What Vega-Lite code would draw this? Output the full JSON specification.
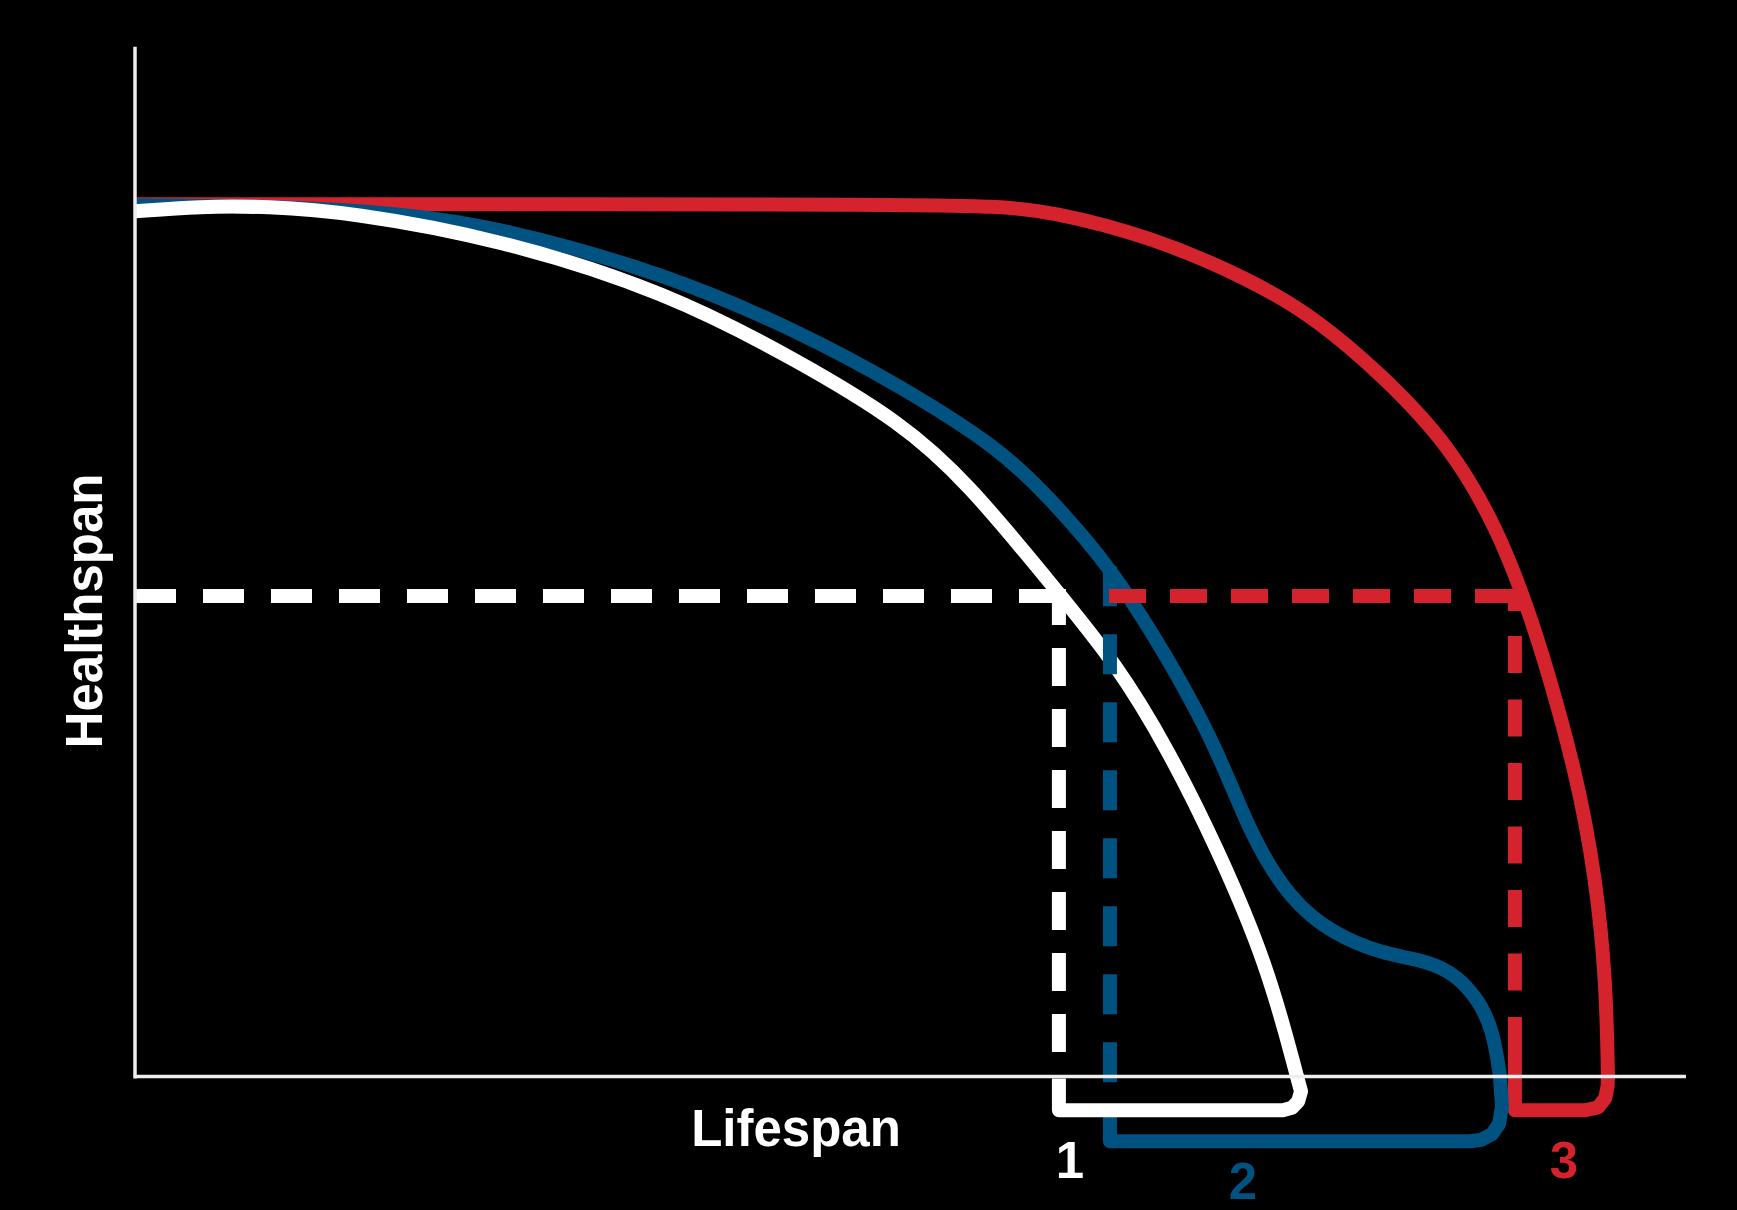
{
  "$schema": "https://vega.github.io/schema/vega-lite/v6.json",
  "width": 1737,
  "height": 1210,
  "autosize": {"type": "fit", "contains": "padding"},
  "padding": 0,
  "background": "#000000",
  "config": {"view": {"stroke": null}},
  "datasets": {
    "curves": [
      {"series": "red", "o": 1, "lifespan": 0, "healthspan": 84.70},
      {"series": "red", "o": 2, "lifespan": 23.53, "healthspan": 84.70},
      {"series": "red", "o": 3, "lifespan": 49.32, "healthspan": 84.70},
      {"series": "red", "o": 4, "lifespan": 55.77, "healthspan": 84.51},
      {"series": "red", "o": 5, "lifespan": 58.99, "healthspan": 84.03},
      {"series": "red", "o": 6, "lifespan": 65.44, "healthspan": 81.61},
      {"series": "red", "o": 7, "lifespan": 71.89, "healthspan": 77.44},
      {"series": "red", "o": 8, "lifespan": 76.21, "healthspan": 73.57},
      {"series": "red", "o": 9, "lifespan": 80.46, "healthspan": 68.05},
      {"series": "red", "o": 10, "lifespan": 84.78, "healthspan": 61.28},
      {"series": "red", "o": 11, "lifespan": 87.81, "healthspan": 53.24},
      {"series": "red", "o": 12, "lifespan": 89.43, "healthspan": 46.95},
      {"series": "red", "o": 13, "lifespan": 90.65, "healthspan": 41.63},
      {"series": "red", "o": 14, "lifespan": 92.97, "healthspan": 29.33},
      {"series": "red", "o": 15, "lifespan": 94.20, "healthspan": 19.07},
      {"series": "red", "o": 16, "lifespan": 94.84, "healthspan": 9.39},
      {"series": "red", "o": 17, "lifespan": 94.97, "healthspan": 0},
      {"series": "blue", "o": 1, "lifespan": 0, "healthspan": 84.61},
      {"series": "blue", "o": 2, "lifespan": 9.35, "healthspan": 84.51},
      {"series": "blue", "o": 3, "lifespan": 17.09, "healthspan": 83.83},
      {"series": "blue", "o": 4, "lifespan": 23.53, "healthspan": 82.48},
      {"series": "blue", "o": 5, "lifespan": 34.30, "healthspan": 77.93},
      {"series": "blue", "o": 6, "lifespan": 42.88, "healthspan": 72.31},
      {"series": "blue", "o": 7, "lifespan": 49.32, "healthspan": 67.09},
      {"series": "blue", "o": 8, "lifespan": 55.77, "healthspan": 60.99},
      {"series": "blue", "o": 9, "lifespan": 58.99, "healthspan": 56.15},
      {"series": "blue", "o": 10, "lifespan": 62.86, "healthspan": 49.56},
      {"series": "blue", "o": 11, "lifespan": 66.41, "healthspan": 41.14},
      {"series": "blue", "o": 12, "lifespan": 69.76, "healthspan": 31.95},
      {"series": "blue", "o": 13, "lifespan": 71.89, "healthspan": 23.52},
      {"series": "blue", "o": 14, "lifespan": 74.47, "healthspan": 17.13},
      {"series": "blue", "o": 15, "lifespan": 77.24, "healthspan": 13.84},
      {"series": "blue", "o": 16, "lifespan": 80.46, "healthspan": 11.91},
      {"series": "blue", "o": 17, "lifespan": 82.66, "healthspan": 11.42},
      {"series": "blue", "o": 18, "lifespan": 84.78, "healthspan": 10.36},
      {"series": "blue", "o": 19, "lifespan": 86.52, "healthspan": 7.74},
      {"series": "blue", "o": 20, "lifespan": 87.56, "healthspan": 4.55},
      {"series": "blue", "o": 21, "lifespan": 88.01, "healthspan": 0},
      {"series": "white", "o": 1, "lifespan": 0, "healthspan": 84.03},
      {"series": "white", "o": 2, "lifespan": 4.19, "healthspan": 84.51},
      {"series": "white", "o": 3, "lifespan": 8.51, "healthspan": 84.51},
      {"series": "white", "o": 4, "lifespan": 13.86, "healthspan": 83.93},
      {"series": "white", "o": 5, "lifespan": 23.53, "healthspan": 81.32},
      {"series": "white", "o": 6, "lifespan": 34.30, "healthspan": 76.19},
      {"series": "white", "o": 7, "lifespan": 42.88, "healthspan": 69.41},
      {"series": "white", "o": 8, "lifespan": 49.32, "healthspan": 63.60},
      {"series": "white", "o": 9, "lifespan": 53.64, "healthspan": 57.79},
      {"series": "white", "o": 10, "lifespan": 59.45, "healthspan": 47.14},
      {"series": "white", "o": 11, "lifespan": 63.31, "healthspan": 39.98},
      {"series": "white", "o": 12, "lifespan": 66.54, "healthspan": 31.95},
      {"series": "white", "o": 13, "lifespan": 69.76, "healthspan": 22.27},
      {"series": "white", "o": 14, "lifespan": 72.99, "healthspan": 10.94},
      {"series": "white", "o": 15, "lifespan": 74.92, "healthspan": 0}
    ],
    "brackets": [
      {"series": "red", "o": 1, "lifespan": 94.97, "healthspan": 0.3},
      {"series": "red", "o": 2, "lifespan": 94.95, "healthspan": -0.9},
      {"series": "red", "o": 3, "lifespan": 94.80, "healthspan": -2.1},
      {"series": "red", "o": 4, "lifespan": 94.33, "healthspan": -3.00},
      {"series": "red", "o": 5, "lifespan": 93.49, "healthspan": -3.29},
      {"series": "red", "o": 6, "lifespan": 88.97, "healthspan": -3.29},
      {"series": "red", "o": 7, "lifespan": 88.97, "healthspan": 0},
      {"series": "blue", "o": 1, "lifespan": 88.00, "healthspan": 0.1},
      {"series": "blue", "o": 2, "lifespan": 88.14, "healthspan": -2.90},
      {"series": "blue", "o": 3, "lifespan": 87.95, "healthspan": -4.6},
      {"series": "blue", "o": 4, "lifespan": 87.50, "healthspan": -5.6},
      {"series": "blue", "o": 5, "lifespan": 86.80, "healthspan": -6.15},
      {"series": "blue", "o": 6, "lifespan": 86.07, "healthspan": -6.29},
      {"series": "blue", "o": 7, "lifespan": 62.86, "healthspan": -6.29},
      {"series": "blue", "o": 8, "lifespan": 62.86, "healthspan": -3.10},
      {"series": "white", "o": 1, "lifespan": 74.90, "healthspan": 0.1},
      {"series": "white", "o": 2, "lifespan": 75.18, "healthspan": -1.45},
      {"series": "white", "o": 3, "lifespan": 75.0, "healthspan": -2.4},
      {"series": "white", "o": 4, "lifespan": 74.6, "healthspan": -3.05},
      {"series": "white", "o": 5, "lifespan": 74.0, "healthspan": -3.29},
      {"series": "white", "o": 6, "lifespan": 59.57, "healthspan": -3.29},
      {"series": "white", "o": 7, "lifespan": 59.57, "healthspan": -0.19}
    ],
    "dashes": [
      {"seg": "whiteH", "o": 1, "lifespan": 0, "healthspan": 46.66},
      {"seg": "whiteH", "o": 2, "lifespan": 60.0, "healthspan": 46.66},
      {"seg": "whiteV", "o": 1, "lifespan": 59.57, "healthspan": 47.34},
      {"seg": "whiteV", "o": 2, "lifespan": 59.57, "healthspan": 1.94},
      {"seg": "blueV", "o": 1, "lifespan": 62.86, "healthspan": 49.56},
      {"seg": "blueV", "o": 2, "lifespan": 62.86, "healthspan": -3.10},
      {"seg": "redH", "o": 1, "lifespan": 62.80, "healthspan": 46.66},
      {"seg": "redH", "o": 2, "lifespan": 89.43, "healthspan": 46.66},
      {"seg": "redV", "o": 1, "lifespan": 88.97, "healthspan": 47.34},
      {"seg": "redV", "o": 2, "lifespan": 88.97, "healthspan": 0}
    ],
    "axes": [
      {"axis": "y", "o": 1, "lifespan": 0, "healthspan": 100.0},
      {"axis": "y", "o": 2, "lifespan": 0, "healthspan": -0.19},
      {"axis": "x", "o": 1, "lifespan": 0, "healthspan": 0},
      {"axis": "x", "o": 2, "lifespan": 100.0, "healthspan": 0}
    ],
    "labels": [
      {"label": "Lifespan", "kind": "white", "lifespan": 42.62, "healthspan": -6.78},
      {"label": "1", "kind": "white", "lifespan": 60.28, "healthspan": -9.87},
      {"label": "2", "kind": "blue", "lifespan": 71.44, "healthspan": -11.91},
      {"label": "3", "kind": "red", "lifespan": 92.13, "healthspan": -9.87}
    ],
    "ytitle": [
      {"label": "Healthspan", "lifespan": -2.13, "healthspan": 45.21}
    ]
  },
  "encoding": {
    "x": {"field": "lifespan", "type": "quantitative", "scale": {"domain": [-8.704, 103.29], "nice": false, "zero": false}, "axis": null},
    "y": {"field": "healthspan", "type": "quantitative", "scale": {"domain": [-12.585, 104.55], "nice": false, "zero": false}, "axis": null}
  },
  "layer": [
    {"data": {"name": "curves"}, "transform": [{"filter": "datum.series === 'red'"}],
     "mark": {"type": "line", "interpolate": "basis", "color": "#d4232d", "strokeWidth": 14},
     "encoding": {"order": {"field": "o", "type": "quantitative"}}},
    {"data": {"name": "brackets"}, "transform": [{"filter": "datum.series === 'red'"}],
     "mark": {"type": "line", "interpolate": "linear", "color": "#d4232d", "strokeWidth": 14, "strokeJoin": "round"},
     "encoding": {"order": {"field": "o", "type": "quantitative"}}},
    {"data": {"name": "curves"}, "transform": [{"filter": "datum.series === 'blue'"}],
     "mark": {"type": "line", "interpolate": "basis", "color": "#005280", "strokeWidth": 14},
     "encoding": {"order": {"field": "o", "type": "quantitative"}}},
    {"data": {"name": "brackets"}, "transform": [{"filter": "datum.series === 'blue'"}],
     "mark": {"type": "line", "interpolate": "linear", "color": "#005280", "strokeWidth": 14, "strokeJoin": "round"},
     "encoding": {"order": {"field": "o", "type": "quantitative"}}},
    {"data": {"name": "curves"}, "transform": [{"filter": "datum.series === 'white'"}],
     "mark": {"type": "line", "interpolate": "basis", "color": "#ffffff", "strokeWidth": 14},
     "encoding": {"order": {"field": "o", "type": "quantitative"}}},
    {"data": {"name": "brackets"}, "transform": [{"filter": "datum.series === 'white'"}],
     "mark": {"type": "line", "interpolate": "linear", "color": "#ffffff", "strokeWidth": 14, "strokeJoin": "round"},
     "encoding": {"order": {"field": "o", "type": "quantitative"}}},
    {"data": {"name": "dashes"}, "transform": [{"filter": "datum.seg === 'whiteH'"}],
     "mark": {"type": "line", "color": "#ffffff", "strokeWidth": 14, "strokeDash": [41, 27]},
     "encoding": {"order": {"field": "o", "type": "quantitative"}}},
    {"data": {"name": "dashes"}, "transform": [{"filter": "datum.seg === 'whiteV'"}],
     "mark": {"type": "line", "color": "#ffffff", "strokeWidth": 14, "strokeDash": [36, 23, 38, 23, 38, 23, 38, 23, 38, 23, 38, 23, 38, 23, 38, 23, 38, 80]},
     "encoding": {"order": {"field": "o", "type": "quantitative"}}},
    {"data": {"name": "dashes"}, "transform": [{"filter": "datum.seg === 'blueV'"}],
     "mark": {"type": "line", "color": "#005280", "strokeWidth": 14, "strokeDash": [40, 28]},
     "encoding": {"order": {"field": "o", "type": "quantitative"}}},
    {"data": {"name": "dashes"}, "transform": [{"filter": "datum.seg === 'redH'"}],
     "mark": {"type": "line", "color": "#d4232d", "strokeWidth": 14, "strokeDash": [37, 24]},
     "encoding": {"order": {"field": "o", "type": "quantitative"}}},
    {"data": {"name": "dashes"}, "transform": [{"filter": "datum.seg === 'redV'"}],
     "mark": {"type": "line", "color": "#d4232d", "strokeWidth": 14, "strokeDash": [22, 25, 37, 26.5, 37, 26.5, 37, 26.5, 37, 26.5, 37, 26.5, 37, 26.5, 120]},
     "encoding": {"order": {"field": "o", "type": "quantitative"}}},
    {"data": {"name": "axes"},
     "mark": {"type": "line", "color": "#eeeeee", "strokeWidth": 3.5},
     "encoding": {"detail": {"field": "axis", "type": "nominal"}, "order": {"field": "o", "type": "quantitative"}}},
    {"data": {"name": "labels"},
     "mark": {"type": "text", "font": "Liberation Sans", "fontWeight": "bold", "fontSize": 51, "align": "center", "baseline": "alphabetic"},
     "encoding": {
       "text": {"field": "label", "type": "nominal"},
       "color": {"field": "kind", "type": "nominal", "scale": {"domain": ["white", "blue", "red"], "range": ["#ffffff", "#005280", "#d4232d"]}, "legend": null}
     }},
    {"data": {"name": "ytitle"},
     "mark": {"type": "text", "font": "Liberation Sans", "fontWeight": "bold", "fontSize": 51, "align": "center", "baseline": "alphabetic", "angle": 270, "color": "#ffffff"},
     "encoding": {"text": {"field": "label", "type": "nominal"}}}
  ]
}
